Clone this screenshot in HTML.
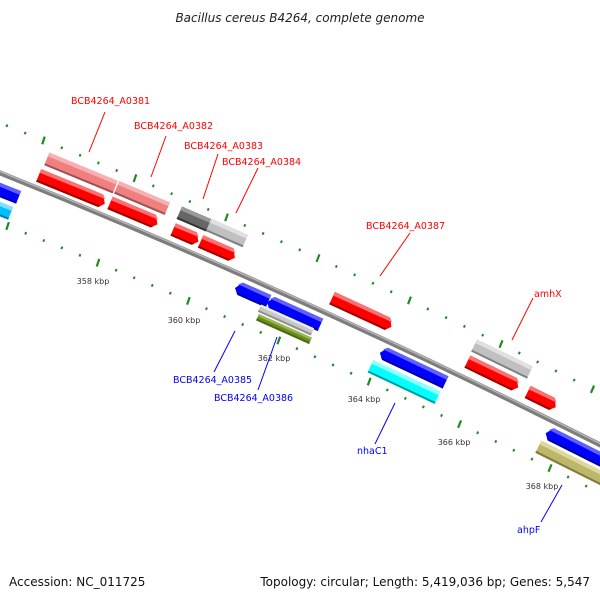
<!DOCTYPE html>
<html><head><meta charset="utf-8"><style>
html,body{margin:0;padding:0;background:#fff;width:600px;height:600px;overflow:hidden}
svg{display:block}
text{font-family:"DejaVu Sans","Liberation Sans",sans-serif}
</style></head><body>
<svg id="s" width="600" height="600" xmlns="http://www.w3.org/2000/svg">
<text x="300" y="22" text-anchor="middle" font-size="12" font-style="italic" fill="#222">Bacillus cereus B4264, complete genome</text>
<text x="9" y="586" font-size="12" fill="#111">Accession: NC_011725</text>
<text x="590" y="586" text-anchor="end" font-size="12" fill="#111">Topology: circular; Length: 5,419,036 bp; Genes: 5,547</text>
<g id="g"></g>
</svg>
<script>
var NS="http://www.w3.org/2000/svg",g=document.getElementById('g');
function el(t,a,p){var e=document.createElementNS(NS,t);for(var k in a)e.setAttribute(k,a[k]);(p||g).appendChild(e);return e;}
function by(x){var t=x/600;return 173*(1-t)*(1-t)+584*t*(1-t)+443*t*t;}
function ang(x){var t=x/600;return Math.atan(0.397+0.107*t)*180/Math.PI;}
function ticks(off,start,step){
  for(var k=-15;k<40;k++){var x=start+step*k/5;if(x<-5||x>605)continue;var y=by(x)+off;var a=ang(x);
    var gg=el('g',{transform:'translate('+x+','+y+') rotate('+a+')'});
    if(k%5==0)el('rect',{x:-1.1,y:-4,width:2.2,height:8,fill:'#1f8a1f',transform:'rotate(-4)'},gg);
    else el('rect',{x:-1,y:-1.3,width:2,height:2.6,fill:'#1f8a1f'},gg);}
}
ticks(-50,135,91.5);ticks(50,98,90.4);
el('path',{d:'M-20,165 Q300,292 620,455',stroke:'#7d7d7d','stroke-width':5,fill:'none'});
el('path',{d:'M-20,163.6 Q300,290.6 620,453.6',stroke:'#b5b5b5','stroke-width':1.5,fill:'none'});
var H=13.5;
var F=[
[81,173,74,H,'#f08080','#f8b0b0','#a05050',0],
[72,189,72,H,'#ff0000','#ff7070','#a00000',1],
[142,198,55,H,'#f08080','#f8b0b0','#a05050',0],
[134,213,52,H,'#ff0000','#ff7070','#a00000',1],
[194,219,32,H,'#666666','#999999','#333333',0],
[227,233,40,H,'#c0c0c0','#e0e0e0','#808080',0],
[186,235,28,H,'#ff0000','#ff7070','#a00000',1],
[218,249,38,H,'#ff0000','#ff7070','#a00000',1],
[362,312,66,H,'#ff0000','#ff7070','#a00000',1],
[502,359,62,H,'#c0c0c0','#e0e0e0','#808080',0],
[493,374,57,H,'#ff0000','#ff7070','#a00000',1],
[542,399,32,H,'#ff0000','#ff7070','#a00000',1],
[252,294,36,H,'#0000ff','#6060ff','#0000a0',-1],
[294,313,58,H,'#0000ff','#6060ff','#0000a0',-1],
[286,320,58,8,'#c8c8c8','#e8e8e8','#909090',0],
[284,329,58,7,'#6b8e23','#9ab850','#4a6a10',0],
[413,367,72,H,'#0000ff','#6060ff','#0000a0',-1],
[404,382,74,H,'#00ffff','#90ffff','#00a0a0',0],
[582,450,80,H,'#0000ff','#6060ff','#0000a0',-1],
[575,465,82,H,'#bdb76b','#ddd8a0','#807a40',0],
[0,190,40,H,'#0000ff','#6060ff','#0000a0',-1],
[-8,206,40,H,'#00bfff','#80dfff','#0080b0',0]
];
F.forEach(function(f){var L=f[2],h=f[3],c=f[4],lt=f[5],dk=f[6],ty=f[7];
  var gg=el('g',{transform:'translate('+f[0]+','+f[1]+') rotate('+ang(f[0])+')'});
  var l=-L/2,r=L/2,t=-h/2,b=h/2,p;
  if(ty==1)p=[[l,t],[r-5,t],[r,h*0.1],[r-5,b],[l,b]];
  else if(ty==-1)p=[[l,h*0.1],[l+5,t],[r,t],[r,b],[l+5,b]];
  else p=[[l,t],[r,t],[r,b],[l,b]];
  el('polygon',{points:p.map(function(q){return q.join(',')}).join(' '),fill:c},gg);
  var tp=t+(h>9?4:2.5);
  if(ty==1)el('polygon',{points:[l,t,r-5,t,r-1.5,tp-0.5,l,tp].join(' '),fill:lt},gg);
  else if(ty==-1)el('polygon',{points:[l+5,t,r,t,r,tp,l+1.5,tp-0.5].join(' '),fill:lt},gg);
  else el('rect',{x:l,y:t,width:L,height:tp-t,fill:lt},gg);
  if(ty==1)el('polygon',{points:[l,b-2,r-3,b-2,r-5,b,l,b].join(' '),fill:dk},gg);
  else if(ty==-1)el('polygon',{points:[l+3,b-2,r,b-2,r,b,l+5,b].join(' '),fill:dk},gg);
  else el('rect',{x:l,y:b-2,width:L,height:2,fill:dk},gg);
});
[[93,284,'358 kbp'],[184,323,'360 kbp'],[274,361,'362 kbp'],[364,402,'364 kbp'],[454,445,'366 kbp'],[542,489,'368 kbp']].forEach(function(a){
  var t=el('text',{x:a[0],y:a[1],'text-anchor':'middle','font-size':8,fill:'#333'});t.textContent=a[2];});
var Lb=[
['BCB4264_A0381',71,104,105,112,89,152,'#f00'],
['BCB4264_A0382',134,129,166,136,151,177,'#f00'],
['BCB4264_A0383',184,149,218,154,203,199,'#f00'],
['BCB4264_A0384',222,165,258,168,236,213,'#f00'],
['BCB4264_A0387',366,229,410,233,380,276,'#f00'],
['amhX',534,297,533,298,512,340,'#f00'],
['BCB4264_A0385',173,383,235,331,214,372,'#00f'],
['BCB4264_A0386',214,401,277,337,258,390,'#00f'],
['nhaC1',357,454,395,403,375,444,'#00f'],
['ahpF',517,533,562,485,541,522,'#00f']
];
Lb.forEach(function(a){var t=el('text',{x:a[1],y:a[2],'font-size':9.5,fill:a[7]});t.textContent=a[0];
  el('line',{x1:a[3],y1:a[4],x2:a[5],y2:a[6],stroke:a[7],'stroke-width':1});});
</script>
</body></html>
